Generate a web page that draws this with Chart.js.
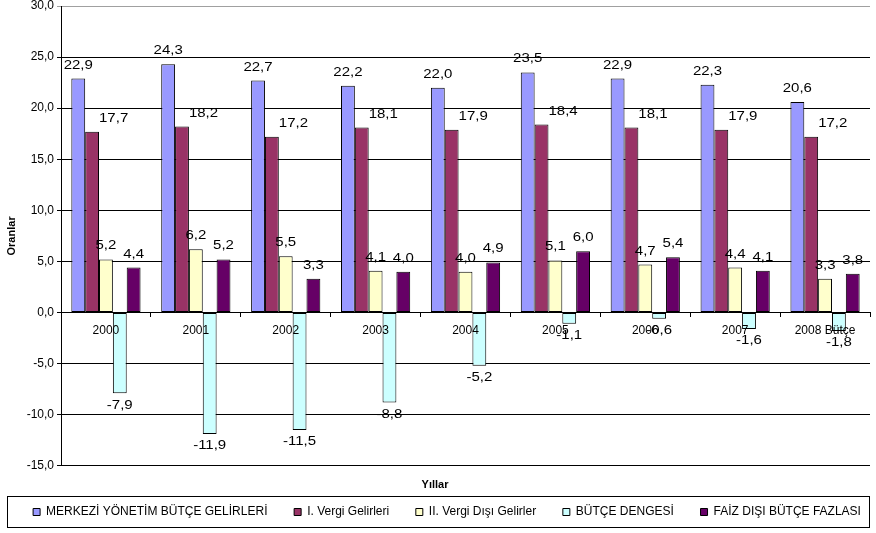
<!DOCTYPE html>
<html>
<head>
<meta charset="utf-8">
<title>Bütçe Oranları</title>
<style>
  body { margin:0; background:#fff; }
  #wrap { width:876px; height:533px; }
</style>
</head>
<body>
<div id="wrap"><canvas id="myChart" width="876" height="533"></canvas></div>
<script src="https://cdn.jsdelivr.net/npm/chart.js@4/dist/chart.umd.min.js"></script>
<script>
var years = ['2000', '2001', '2002', '2003', '2004', '2005', '2006', '2007', '2008 Bütçe'];

var seriesNames = ['MERKEZİ YÖNETİM BÜTÇE GELİRLERİ', 'I. Vergi Gelirleri', 'II. Vergi Dışı Gelirler', 'BÜTÇE DENGESİ', 'FAİZ DIŞI BÜTÇE FAZLASI'];
var butceGelirleri = [22.9, 24.3, 22.7, 22.2, 22.0, 23.5, 22.9, 22.3, 20.6];
var vergiGelirleri = [17.7, 18.2, 17.2, 18.1, 17.9, 18.4, 18.1, 17.9, 17.2];
var vergiDisiGelirler = [5.2, 6.2, 5.5, 4.1, 4.0, 5.1, 4.7, 4.4, 3.3];
var butceDengesi = [-7.9, -11.9, -11.5, -8.8, -5.2, -1.1, -0.6, -1.6, -1.8];
var faizDisiFazla = [4.4, 5.2, 3.3, 4.0, 4.9, 6.0, 5.4, 4.1, 3.8];

var yMin = -15, yMax = 30, yStep = 5;

var colors = ['#9999FF', '#993366', '#FFFFCC', '#CCFFFF', '#660066'];
var FONT = "Arial, 'Liberation Sans', sans-serif";

function fmt(v) { return v.toFixed(1).replace('.', ','); }

// value labels above / below bars (the original text is a bit stretched sideways)
var valueLabels = {
    id: 'valueLabels',
    afterDatasetsDraw: function(chart) {
        var ctx = chart.ctx;
        var sx = 1.25;
        ctx.save();
        ctx.font = '12px ' + FONT;
        ctx.fillStyle = '#000';
        chart.data.datasets.forEach(function(ds, di) {
            var meta = chart.getDatasetMeta(di);
            meta.data.forEach(function(bar, i) {
                var v = ds.data[i];
                var x = bar.x, y;
                ctx.save();
                if (v >= 0) {
                    ctx.textBaseline = 'alphabetic';
                    y = bar.y - 10;
                    if (di === 1) {
                        ctx.textAlign = 'left';
                        x = bar.x + bar.width / 2;
                    } else {
                        ctx.textAlign = 'center';
                    }
                } else {
                    ctx.textAlign = 'center';
                    ctx.textBaseline = 'top';
                    y = bar.y + 6;
                }
                ctx.translate(x, y);
                ctx.scale(sx, 1);
                ctx.fillText(fmt(v), 0, 0);
                ctx.restore();
            });
        });
        ctx.restore();
    }
};

// frame round the legend, legend items nudged a little to the right
var legendFrame = {
    id: 'legendFrame',
    afterLayout: function(chart) {
        chart.legend.left += 12;
        chart.legend.right += 12;
    },
    afterDraw: function(chart) {
        var l = chart.legend;
        var ctx = chart.ctx;
        ctx.save();
        ctx.strokeStyle = '#000';
        ctx.lineWidth = 1;
        ctx.strokeRect(7.5, Math.round(l.top) + 0.5, 862, Math.round(l.height) - 1);
        ctx.restore();
    }
};

var config = {
    type: 'bar',
    data: {
        labels: years,
        datasets: [
            { label: seriesNames[0], data: butceGelirleri, backgroundColor: colors[0] },
            { label: seriesNames[1], data: vergiGelirleri, backgroundColor: colors[1] },
            { label: seriesNames[2], data: vergiDisiGelirler, backgroundColor: colors[2] },
            { label: seriesNames[3], data: butceDengesi, backgroundColor: colors[3] },
            { label: seriesNames[4], data: faizDisiFazla, backgroundColor: colors[4] }
        ]
    },
    options: {
        responsive: false,
        animation: false,
        devicePixelRatio: 1,
        layout: { padding: { top: 6, right: 6, left: 0, bottom: 5 } },
        datasets: {
            bar: {
                borderColor: '#000',
                borderWidth: 1,
                borderSkipped: false,
                barPercentage: 1,
                categoryPercentage: 0.77
            }
        },
        scales: {
            x: {
                position: { y: 0 },
                grid: { display: true, drawOnChartArea: false, drawTicks: true, tickLength: 4, color: '#000' },
                border: { display: true, color: '#000', width: 1, z: 1 },
                ticks: { z: 1, color: '#000', font: { family: FONT, size: 12 }, padding: 7, maxRotation: 0, autoSkip: false }
            },
            y: {
                min: yMin,
                max: yMax,
                afterFit: function(scale) {
                    scale.width = 61;
                    scale.paddingTop = 0;
                    scale.paddingBottom = 0;
                },
                ticks: {
                    stepSize: yStep,
                    color: '#000',
                    font: { family: FONT, size: 12 },
                    padding: 3,
                    callback: function(v) { return fmt(v); }
                },
                grid: {
                    color: function(c) { return c.tick && c.tick.value === yMax ? '#a0a0a0' : '#000'; },
                    tickLength: 4
                },
                border: { display: true, color: '#000', width: 1 },
                title: {
                    display: true,
                    text: 'Oranlar',
                    color: '#000',
                    font: { family: FONT, size: 11, weight: 'bold' },
                    padding: { top: 5, bottom: 0 }
                }
            }
        },
        plugins: {
            tooltip: { enabled: false },
            title: {
                display: true,
                text: 'Yıllar',
                position: 'bottom',
                weight: 500,
                color: '#000',
                font: { family: FONT, size: 11, weight: 'bold' },
                padding: { top: 13, bottom: 4 }
            },
            legend: {
                position: 'bottom',
                labels: {
                    color: '#000',
                    font: { family: FONT, size: 12 },
                    boxWidth: 7,
                    boxHeight: 7,
                    padding: 10,
                    generateLabels: function(chart) {
                        var items = Chart.defaults.plugins.legend.labels.generateLabels(chart);
                        items.forEach(function(it, i) {
                            if (i < items.length - 1) it.text = it.text + '     ';
                        });
                        return items;
                    }
                }
            }
        }
    },
    plugins: [valueLabels, legendFrame]
};

window.onload = function() {
    var ctx = document.getElementById('myChart').getContext('2d');
    window.myBar = new Chart(ctx, config);
};
</script>
</body>
</html>
